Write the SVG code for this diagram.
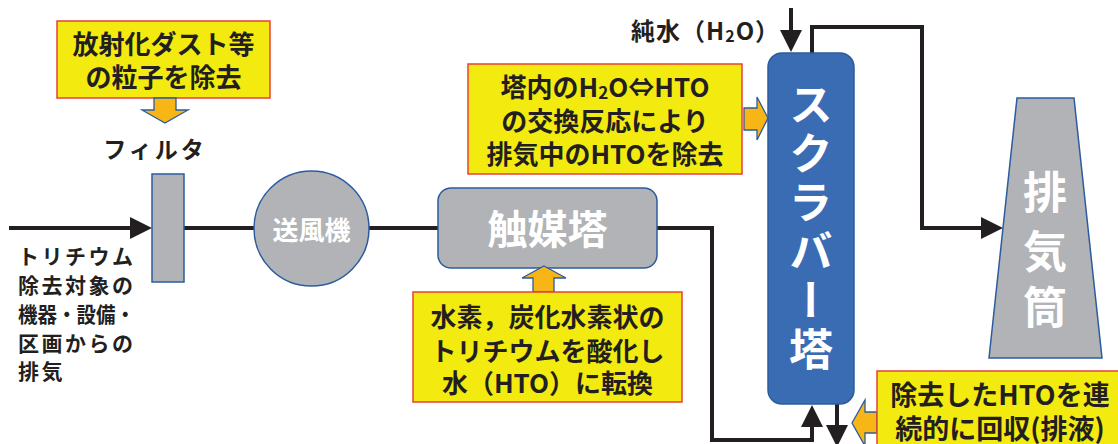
<svg xmlns="http://www.w3.org/2000/svg" width="1118" height="444" viewBox="0 0 1118 444">
<defs>
<style>
text{font-family:"Noto Sans CJK JP","Noto Sans",sans-serif;font-weight:bold;fill:#231f20;dominant-baseline:central}
.note{fill:#f3ea10;stroke:#e8403a;stroke-width:1.5}
.grey{fill:#b1b3b6;stroke:#2b5c9e;stroke-width:1.5}
.blue{fill:#3a6cb4;stroke:#2b5c9e;stroke-width:1.5}
.blk{fill:#f8b616;stroke:#2b5c9e;stroke-width:1.3}
.line{fill:none;stroke:#231f20;stroke-width:4}
.white{fill:#ffffff}
.c{text-anchor:middle}
</style>
<marker id="ah" viewBox="0 0 22 22" refX="10" refY="11" markerWidth="22" markerHeight="22" markerUnits="userSpaceOnUse" orient="auto">
<path d="M0,0 L22,11 L0,22 Z" fill="#231f20"/>
</marker>
</defs>
<rect width="1118" height="444" fill="#ffffff"/>

<g id="connectors">
<path class="line" d="M9,228 H140" marker-end="url(#ah)"/>
<path class="line" d="M184,228 H254"/>
<path class="line" d="M369,228 H438"/>
<path class="line" d="M657,228 H712 V440 H812 V417" marker-end="url(#ah)"/>
<path class="line" d="M837,404 V435" marker-end="url(#ah)"/>
<path class="line" d="M791,8 V40" marker-end="url(#ah)"/>
<path class="line" d="M812,53 V27 H922 V228 H991" marker-end="url(#ah)"/>
</g>

<g id="note-dust">
<rect class="note" x="57" y="21" width="213" height="77"/>
<text class="c" x="163.5" y="42" font-size="26">放射化ダスト等</text>
<text class="c" x="163.5" y="75" font-size="26">の粒子を除去</text>
<polygon class="blk" points="154,98 176,98 176,110 188,110 165,123 142,110 154,110"/>
</g>

<g id="filter">
<text class="c" x="155" y="148" font-size="23" letter-spacing="3">フィルタ</text>
<rect class="grey" x="152" y="174" width="32" height="108"/>
</g>

<g id="source">
<text x="18" y="255" font-size="21" letter-spacing="2.5">トリチウム</text>
<text x="18" y="284" font-size="21" letter-spacing="2.5">除去対象の</text>
<text x="18" y="313" font-size="21" textLength="117" lengthAdjust="spacingAndGlyphs">機器・設備・</text>
<text x="18" y="342" font-size="21" letter-spacing="2.5">区画からの</text>
<text x="18" y="370" font-size="21" letter-spacing="2.5">排気</text>
</g>

<g id="fan">
<circle class="grey" cx="311.5" cy="228.5" r="57.5"/>
<text class="c white" x="311.5" y="228" font-size="26" font-weight="500">送風機</text>
</g>

<g id="catalyst">
<rect class="grey" x="438" y="188" width="219" height="80" rx="13"/>
<text class="c white" x="547.5" y="227" font-size="40">触媒塔</text>
</g>

<g id="note-catalyst">
<polygon class="blk" points="544,266 566,278 554,278 554,292 533,292 533,278 522,278"/>
<rect class="note" x="413" y="292" width="269" height="110"/>
<text class="c" x="547.5" y="315" font-size="26">水素，炭化水素状の</text>
<text class="c" x="547.5" y="349" font-size="26">トリチウムを酸化し</text>
<text class="c" x="547.5" y="381" font-size="26">水（HTO）に転換</text>
</g>

<g id="water">
<text x="631" y="29" font-size="24" letter-spacing="1">純水（H<tspan font-size="16" dy="6">2</tspan><tspan dy="-6">O）</tspan></text>
</g>

<g id="note-scrubber">
<rect class="note" x="468" y="64" width="274" height="110"/>
<text class="c" x="605" y="85" font-size="26">塔内のH<tspan font-size="17" dy="6">2</tspan><tspan dy="-6">O⇔HTO</tspan></text>
<text class="c" x="605" y="119" font-size="26">の交換反応により</text>
<text class="c" x="605" y="152" font-size="26">排気中のHTOを除去</text>
<polygon class="blk" points="744,108 757,108 757,97 768,118 757,140 757,130 744,130"/>
</g>

<g id="scrubber">
<rect class="blue" x="768" y="53" width="86" height="351" rx="14"/>
<text class="white" x="811" y="82" font-size="44" letter-spacing="5" writing-mode="vertical-rl">スクラバー塔</text>
</g>

<g id="stack">
<polygon class="grey" points="1017,98 1074,98 1102,358 989,358"/>
<text class="c white" x="1045" y="190" font-size="44">排</text>
<text class="c white" x="1045" y="249" font-size="44">気</text>
<text class="c white" x="1045" y="305" font-size="44">筒</text>
</g>

<g id="note-drain">
<polygon class="blk" points="877,412 877,433 865,433 865,446 852,423 865,400 865,412"/>
<rect class="note" x="877" y="371" width="245" height="80"/>
<text class="c" x="1000" y="393" font-size="27">除去したHTOを連</text>
<text class="c" x="1000" y="427" font-size="27">続的に回収(排液)</text>
</g>
</svg>
